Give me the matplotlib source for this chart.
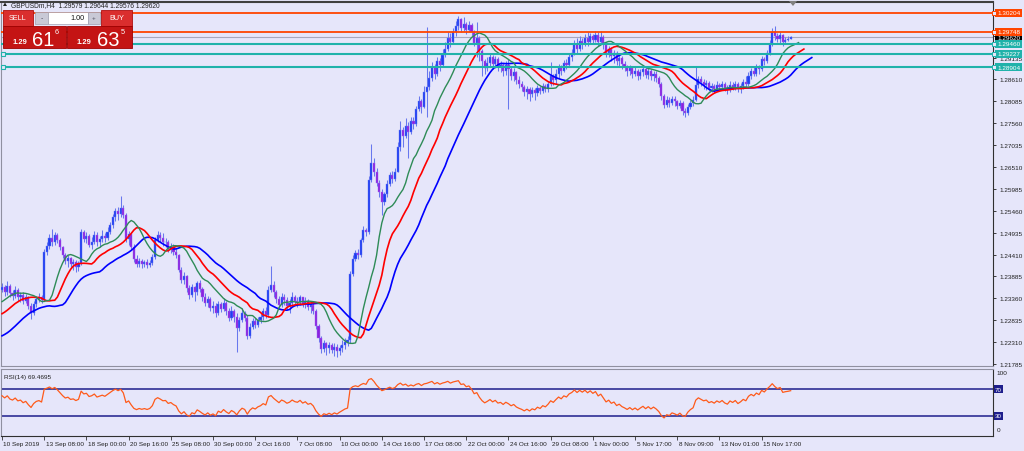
import matplotlib
matplotlib.use("Agg")
import matplotlib.pyplot as plt
from matplotlib.patches import Rectangle, Polygon
from matplotlib.transforms import blended_transform_factory
import numpy as np

# ---------------- data ----------------
first_open = 1.2355
closes = [
 1.2362, 1.2350, 1.2366, 1.2348, 1.2342, 1.2356, 1.2340, 1.2345, 1.2330, 1.2338,
 1.2318, 1.2300, 1.2322, 1.2335, 1.2340, 1.2332, 1.2448, 1.2462, 1.2480, 1.2470,
 1.2488, 1.2475, 1.2458, 1.2440, 1.2425, 1.2432, 1.2418, 1.2422, 1.2412, 1.2420,
 1.2495, 1.2478, 1.2485, 1.2465, 1.2472, 1.2488, 1.2470, 1.2478, 1.2486, 1.2480,
 1.2495, 1.2512, 1.2530, 1.2545, 1.2538, 1.2552, 1.2535, 1.2478, 1.2490, 1.2460,
 1.2430, 1.2418, 1.2425, 1.2418, 1.2422, 1.2415, 1.2420, 1.2435, 1.2475, 1.2488,
 1.2480, 1.2470, 1.2472, 1.2455, 1.2460, 1.2448, 1.2440, 1.2405, 1.2380, 1.2390,
 1.2360, 1.2345, 1.2362, 1.2352, 1.2372, 1.2358, 1.2340, 1.2325, 1.2335, 1.2312,
 1.2318, 1.2300, 1.2322, 1.2310, 1.2325, 1.2305, 1.2290, 1.2305, 1.2292, 1.2265,
 1.2285, 1.2300, 1.2290, 1.2245, 1.2268, 1.2282, 1.2272, 1.2285, 1.2292, 1.2305,
 1.2296, 1.2355, 1.2368, 1.2350, 1.2335, 1.2320, 1.2340, 1.2332, 1.2318, 1.2325,
 1.2340, 1.2330, 1.2326, 1.2338, 1.2322, 1.2330, 1.2315, 1.2320, 1.2305, 1.2270,
 1.2240, 1.2215, 1.2228, 1.2218, 1.2225, 1.2212, 1.2220, 1.2210, 1.2218, 1.2225,
 1.2232, 1.2236, 1.2395, 1.2430, 1.2445, 1.2440, 1.2475, 1.2500, 1.2495, 1.2620,
 1.2660, 1.2640, 1.2612, 1.2590, 1.2568, 1.2585, 1.2610, 1.2632, 1.2622, 1.2640,
 1.2700, 1.2740, 1.2725, 1.2750, 1.2735, 1.2762, 1.2755, 1.2790, 1.2808, 1.2795,
 1.2830, 1.2842, 1.2865, 1.2890, 1.2875, 1.2905, 1.2895, 1.2920, 1.2935, 1.2960,
 1.2950, 1.2975, 1.2990, 1.3005, 1.2985, 1.2995, 1.2980, 1.2992, 1.2975, 1.2948,
 1.2960, 1.2930, 1.2905, 1.2888, 1.2900, 1.2915, 1.2898, 1.2910, 1.2890, 1.2895,
 1.2880, 1.2895, 1.2885, 1.2870, 1.2878, 1.2860, 1.2850, 1.2842, 1.2830, 1.2838,
 1.2825, 1.2835, 1.2828, 1.2840, 1.2832, 1.2845, 1.2838, 1.2850, 1.2868, 1.2860,
 1.2875, 1.2890, 1.2882, 1.2900, 1.2895, 1.2915, 1.2925, 1.2945, 1.2935, 1.2952,
 1.2945, 1.2960, 1.2950, 1.2965, 1.2955, 1.2968, 1.2950, 1.2962, 1.2945, 1.2925,
 1.2935, 1.2918, 1.2925, 1.2905, 1.2912, 1.2898, 1.2890, 1.2880, 1.2888, 1.2875,
 1.2882, 1.2870, 1.2878, 1.2885, 1.2872, 1.2880, 1.2868, 1.2875, 1.2865, 1.2850,
 1.2820, 1.2800, 1.2812, 1.2805, 1.2815, 1.2808, 1.2798, 1.2805, 1.2785, 1.2780,
 1.2795, 1.2805, 1.2812, 1.2848, 1.2862, 1.2855, 1.2848, 1.2852, 1.2840, 1.2845,
 1.2838, 1.2848, 1.2842, 1.2850, 1.2840, 1.2835, 1.2848, 1.2842, 1.2850, 1.2838,
 1.2845, 1.2855, 1.2850, 1.2870, 1.2880, 1.2875, 1.2890, 1.2885, 1.2910, 1.2905,
 1.2925, 1.2945, 1.2975, 1.2965, 1.2958, 1.2968, 1.2950, 1.2955, 1.29579, 1.29620,
]
highs = [
 1.2372, 1.2368, 1.2378, 1.2370, 1.2356, 1.2365, 1.2360, 1.2352, 1.2350, 1.2346,
 1.2342, 1.2325, 1.2330, 1.2342, 1.2348, 1.2345, 1.2455, 1.2470, 1.2490, 1.2502,
 1.2496, 1.2492, 1.2480, 1.2462, 1.2445, 1.2440, 1.2436, 1.2430, 1.2428, 1.2426,
 1.2502, 1.2500, 1.2495, 1.2490, 1.2484, 1.2498, 1.2495, 1.2486, 1.2500, 1.2492,
 1.2508, 1.2520, 1.2538, 1.2552, 1.2556, 1.2581, 1.2560, 1.2540, 1.2498, 1.2492,
 1.2466, 1.2440, 1.2432, 1.2430, 1.2428, 1.2430, 1.2428, 1.2442, 1.2482, 1.2498,
 1.2495, 1.2492, 1.2480, 1.2476, 1.2468, 1.2466, 1.2455, 1.2442, 1.2410, 1.2398,
 1.2392, 1.2368, 1.2370, 1.2366, 1.2378, 1.2380, 1.2362, 1.2348, 1.2342, 1.2338,
 1.2330, 1.2325, 1.2330, 1.2328, 1.2336, 1.2330, 1.2312, 1.2318, 1.2310, 1.2300,
 1.2292, 1.2312, 1.2305, 1.2295, 1.2276, 1.2290, 1.2288, 1.2292, 1.2300, 1.2312,
 1.2315, 1.2365, 1.2414, 1.2378, 1.2356, 1.2342, 1.2348, 1.2346, 1.2338, 1.2335,
 1.2350, 1.2345, 1.2340, 1.2345, 1.2340, 1.2338, 1.2334, 1.2328, 1.2325, 1.2310,
 1.2275, 1.2245, 1.2236, 1.2232, 1.2232, 1.2230, 1.2228, 1.2226, 1.2225, 1.2235,
 1.2240, 1.2246, 1.2402, 1.2440, 1.2452, 1.2455, 1.2480, 1.2510, 1.2505, 1.2630,
 1.2705, 1.2672, 1.2648, 1.2620, 1.2598, 1.2592, 1.2620, 1.2640, 1.2642, 1.2648,
 1.2710, 1.2762, 1.2748, 1.2768, 1.2760, 1.2772, 1.2770, 1.2798, 1.2822, 1.2815,
 1.2845, 1.2987, 1.2880, 1.2902, 1.2898, 1.2915, 1.2912, 1.2935, 1.2950, 1.2975,
 1.2972, 1.2985, 1.3000, 1.3012, 1.3008, 1.3010, 1.2998, 1.3002, 1.2996, 1.2980,
 1.2999, 1.2965, 1.2935, 1.2910, 1.2915, 1.2925, 1.2920, 1.2918, 1.2915, 1.2905,
 1.2900, 1.2905, 1.2910, 1.2892, 1.2888, 1.2882, 1.2868, 1.2858, 1.2848, 1.2845,
 1.2842, 1.2842, 1.2840, 1.2848, 1.2845, 1.2852, 1.2850, 1.2858, 1.2902, 1.2875,
 1.2885, 1.2898, 1.2895, 1.2908, 1.2910, 1.2925, 1.2935, 1.2955, 1.2960, 1.2965,
 1.2960, 1.2970, 1.2975, 1.2972, 1.2970, 1.2978, 1.2975, 1.2978, 1.2968, 1.2950,
 1.2942, 1.2938, 1.2932, 1.2930, 1.2920, 1.2918, 1.2905, 1.2895, 1.2896, 1.2892,
 1.2890, 1.2886, 1.2885, 1.2895, 1.2890, 1.2888, 1.2885, 1.2882, 1.2880, 1.2870,
 1.2855, 1.2825, 1.2820, 1.2818, 1.2822, 1.2820, 1.2812, 1.2812, 1.2808, 1.2792,
 1.2802, 1.2812, 1.2820, 1.2893, 1.2870, 1.2868, 1.2862, 1.2860, 1.2858, 1.2852,
 1.2850, 1.2856, 1.2852, 1.2858, 1.2855, 1.2848, 1.2856, 1.2855, 1.2858, 1.2854,
 1.2852, 1.2862, 1.2868, 1.2878, 1.2888, 1.2890, 1.2898, 1.2895, 1.2918, 1.2915,
 1.2932, 1.2955, 1.2984, 1.2988, 1.2972, 1.2975, 1.2970, 1.2962, 1.2966, 1.29644,
]
lows = [
 1.2350, 1.2342, 1.2345, 1.2338, 1.2332, 1.2336, 1.2330, 1.2328, 1.2322, 1.2325,
 1.2310, 1.2286, 1.2295, 1.2315, 1.2328, 1.2325, 1.2330, 1.2440, 1.2455, 1.2462,
 1.2465, 1.2468, 1.2452, 1.2432, 1.2418, 1.2410, 1.2408, 1.2405, 1.2400, 1.2402,
 1.2415, 1.2470, 1.2468, 1.2458, 1.2455, 1.2466, 1.2462, 1.2460, 1.2470, 1.2472,
 1.2476, 1.2490, 1.2505, 1.2522, 1.2525, 1.2530, 1.2528, 1.2470, 1.2465, 1.2452,
 1.2422, 1.2412, 1.2410, 1.2408, 1.2410, 1.2408, 1.2412, 1.2415, 1.2430, 1.2470,
 1.2472, 1.2462, 1.2460, 1.2448, 1.2445, 1.2440, 1.2432, 1.2398, 1.2372, 1.2370,
 1.2352, 1.2335, 1.2338, 1.2330, 1.2345, 1.2350, 1.2330, 1.2318, 1.2315, 1.2305,
 1.2300, 1.2292, 1.2296, 1.2302, 1.2305, 1.2296, 1.2282, 1.2285, 1.2280, 1.2207,
 1.2258, 1.2280, 1.2282, 1.2238, 1.2240, 1.2262, 1.2265, 1.2268, 1.2276, 1.2285,
 1.2288, 1.2292, 1.2350, 1.2340, 1.2325, 1.2312, 1.2316, 1.2320, 1.2310, 1.2300,
 1.2318, 1.2322, 1.2315, 1.2320, 1.2315, 1.2312, 1.2308, 1.2300, 1.2298, 1.2262,
 1.2232, 1.2205, 1.2208, 1.2200, 1.2205, 1.2205, 1.2198, 1.2196, 1.2200, 1.2208,
 1.2215, 1.2222, 1.2230, 1.2390, 1.2425, 1.2430, 1.2435, 1.2470, 1.2485, 1.2490,
 1.2615, 1.2630, 1.2605, 1.2580, 1.2535, 1.2560, 1.2580, 1.2605, 1.2612, 1.2618,
 1.2638, 1.2690, 1.2700, 1.2720, 1.2672, 1.2730, 1.2742, 1.2750, 1.2785, 1.2780,
 1.2792, 1.2770, 1.2835, 1.2858, 1.2862, 1.2870, 1.2880, 1.2890, 1.2915, 1.2930,
 1.2938, 1.2945, 1.2965, 1.2980, 1.2975, 1.2978, 1.2970, 1.2975, 1.2965, 1.2940,
 1.2915, 1.2905, 1.2870, 1.2875, 1.2880, 1.2890, 1.2885, 1.2888, 1.2880, 1.2878,
 1.2870, 1.2872, 1.2790, 1.2860, 1.2858, 1.2850, 1.2840, 1.2832, 1.2820, 1.2815,
 1.2810, 1.2818, 1.2812, 1.2822, 1.2825, 1.2828, 1.2830, 1.2830, 1.2845, 1.2848,
 1.2850, 1.2865, 1.2872, 1.2878, 1.2885, 1.2890, 1.2905, 1.2920, 1.2925, 1.2930,
 1.2935, 1.2940, 1.2942, 1.2945, 1.2948, 1.2950, 1.2942, 1.2945, 1.2935, 1.2915,
 1.2915, 1.2905, 1.2900, 1.2895, 1.2890, 1.2885, 1.2880, 1.2870, 1.2872, 1.2865,
 1.2868, 1.2860, 1.2862, 1.2870, 1.2865, 1.2862, 1.2860, 1.2858, 1.2855, 1.2842,
 1.2812, 1.2792, 1.2795, 1.2796, 1.2800, 1.2798, 1.2790, 1.2792, 1.2775, 1.2771,
 1.2776, 1.2790, 1.2798, 1.2808, 1.2840, 1.2845, 1.2838, 1.2835, 1.2832, 1.2830,
 1.2828, 1.2832, 1.2835, 1.2836, 1.2832, 1.2825, 1.2830, 1.2835, 1.2836, 1.2830,
 1.2828, 1.2838, 1.2842, 1.2845, 1.2862, 1.2868, 1.2870, 1.2875, 1.2880, 1.2895,
 1.2900, 1.2920, 1.2940, 1.2955, 1.2950, 1.2948, 1.2942, 1.2945, 1.2952, 1.29576,
]
# median prices of the last bars before the visible window (for the Alligator)
pre_median = [1.2290, 1.2300, 1.2315, 1.2330, 1.2340, 1.2350, 1.2355]
# Alligator line values at the left edge of the chart
jaw_start, teeth_start, lips_start = 1.2246, 1.2299, 1.2328
rsi_seed_gain, rsi_seed_loss = 0.0010, 0.0007

date_labels = ["10 Sep 2019", "13 Sep 08:00", "18 Sep 00:00", "20 Sep 16:00",
               "25 Sep 08:00", "30 Sep 00:00", "2 Oct 16:00", "7 Oct 08:00",
               "10 Oct 00:00", "14 Oct 16:00", "17 Oct 08:00", "22 Oct 00:00",
               "24 Oct 16:00", "29 Oct 08:00", "1 Nov 00:00", "5 Nov 17:00",
               "8 Nov 09:00", "13 Nov 01:00", "15 Nov 17:00"]
label_every = 16
price_ticks_base, price_tick_step, n_price_ticks = 1.21785, 0.00525, 17
hidden_price_ticks = [1.30185, 1.29660]   # covered by the level labels
orange_levels = [1.30204, 1.29748]
teal_levels = [1.29460, 1.29227, 1.28904]
bid_level = 1.29620
title_text = "GBPUSDm,H4  1.29579 1.29644 1.29576 1.29620"
rsi_text = "RSI(14) 69.4695"

# ---------------- figure ----------------
W, H = 1024, 452
BG = '#E6E6FA'
FONT = 'Liberation Sans'
plt.rcParams['font.family'] = [FONT, 'DejaVu Sans']
fig = plt.figure(figsize=(W / 100, H / 100), dpi=100)
fig.patch.set_facecolor(BG)

def fx(px):
    return px / W

def fy(py):
    return 1 - py / H

ax = fig.add_axes([fx(1), fy(367), fx(993) - fx(1), fy(3) - fy(367)])
axr = fig.add_axes([fx(1), fy(437), fx(993) - fx(1), fy(370) - fy(437)])
for a in (ax, axr):
    a.set_facecolor(BG)

closes = np.array(closes)
highs = np.array(highs)
lows = np.array(lows)
opens = np.concatenate([[first_open], closes[:-1]])
n = len(closes)
xs = np.arange(n)

XMIN, XMAX = -0.38, 375.7
PBOT, PTOP = 1.21737, 1.30466

# candles
up = closes >= opens
lo_w = np.minimum(lows, np.minimum(opens, closes))
hi_w = np.maximum(highs, np.maximum(opens, closes))
ax.vlines(xs, lo_w, hi_w, color='#6878EE', lw=0.75, zorder=2)
ax.bar(xs[up], (closes - opens)[up], bottom=opens[up], width=0.8,
       color='#1E3CF2', edgecolor='#6A7CF4', linewidth=0.3, zorder=3)
ax.bar(xs[~up], (closes - opens)[~up], bottom=opens[~up], width=0.8,
       color='#8A22E0', edgecolor='#9A6CF0', linewidth=0.3, zorder=3)

# Alligator (SMMA of median price, shifted)
median = (highs + lows) / 2.0

def smma(start, vals, period):
    out = [start]
    v = start
    for m in vals:
        v = (v * (period - 1) + m) / period
        out.append(v)
    return np.array(out)

jaw = smma(jaw_start, list(pre_median) + list(median), 13)
teeth = smma(teeth_start, list(pre_median[-4:]) + list(median), 8)
lips = smma(lips_start, list(pre_median[-2:]) + list(median), 5)
ax.plot(np.arange(len(jaw)), jaw, color='#0000FF', lw=1.2, zorder=4)
ax.plot(np.arange(len(teeth)), teeth, color='#FF0000', lw=1.2, zorder=4)
ax.plot(np.arange(len(lips)), lips, color='#2E8B57', lw=1.0, zorder=4)

# horizontal levels
ax.axhline(bid_level, color='#A8A8BC', lw=0.8, zorder=1)
for lv in orange_levels:
    ax.axhline(lv, color='#FF4500', lw=1.3, zorder=5)
for lv in teal_levels:
    ax.axhline(lv, color='#20B2AA', lw=1.5, zorder=5)
for lv in teal_levels[1:]:
    ax.plot([XMIN + 0.9], [lv], marker='s', ms=2.6, mfc=BG, mec='#20B2AA',
            mew=0.8, zorder=6, clip_on=False)

ax.set_xlim(XMIN, XMAX)
ax.set_ylim(PBOT, PTOP)
ax.set_xticks([])
ax.yaxis.tick_right()
pticks = [price_ticks_base + k * price_tick_step for k in range(n_price_ticks)]
ax.set_yticks(pticks)
ax.set_yticklabels(['' if any(abs(p - h) < 1e-6 for h in hidden_price_ticks)
                    else f"{p:.5f}" for p in pticks])
ax.tick_params(axis='y', labelsize=4.6, length=2.5, width=0.6, pad=2,
               colors='#202020')
for s in ('left', 'bottom'):
    ax.spines[s].set_color('#9090A0')
    ax.spines[s].set_linewidth(0.8)
ax.spines['top'].set_color('#404040')
ax.spines['top'].set_linewidth(1.5)
ax.spines['right'].set_color('#303030')
ax.spines['right'].set_linewidth(0.8)

# ---------------- RSI ----------------
diffs = closes - opens
ag, al = rsi_seed_gain, rsi_seed_loss
rsi = []
for d in diffs:
    ag = (ag * 13 + max(d, 0.0)) / 14
    al = (al * 13 + max(-d, 0.0)) / 14
    rsi.append(100 - 100 / (1 + ag / al))
axr.plot(xs, rsi, color='#FF5A1A', lw=0.9, zorder=3)
for lv in (70, 30):
    axr.axhline(lv, color='#1E1E8C', lw=1.1, zorder=2)
axr.set_xlim(XMIN, XMAX)
axr.set_ylim(0, 100)
axr.set_yticks([])
tick_pos = [i * label_every for i in range(len(date_labels))]
axr.set_xticks(tick_pos)
axr.set_xticklabels([''] * len(tick_pos))
axr.tick_params(axis='x', length=3, width=0.6, colors='#303030', direction='out')
tr = blended_transform_factory(axr.transData, axr.transAxes)
for p, lab in zip(tick_pos, date_labels):
    axr.text(p + 0.55, -0.07, lab, transform=tr, ha='left', va='top',
             fontsize=4.6, color='#202020')
for s in ('left', 'top'):
    axr.spines[s].set_color('#9090A0')
    axr.spines[s].set_linewidth(0.8)
for s in ('right', 'bottom'):
    axr.spines[s].set_color('#303030')
    axr.spines[s].set_linewidth(0.8)
axr.text(0.003, 0.93, rsi_text, transform=axr.transAxes, ha='left', va='top',
         fontsize=4.6, color='#202020')
axr.text(1.004, 0.985, '100', transform=axr.transAxes, ha='left', va='top',
         fontsize=4.6, color='#202020')
axr.text(1.004, 0.10, '0', transform=axr.transAxes, ha='left', va='center',
         fontsize=4.6, color='#202020')

# ---------------- price labels on the right ----------------
def price_to_py(p):
    return 3 + (PTOP - p) / (PTOP - PBOT) * 364

def right_box(py, text, face):
    fig.patches.append(Rectangle((fx(995), fy(py + 4)), fx(27), (8 / H),
                                 transform=fig.transFigure, facecolor=face,
                                 edgecolor='none', zorder=5))
    fig.text(fx(997), fy(py), text, ha='left', va='center', fontsize=4.6,
             color='white', zorder=6)

right_box(price_to_py(bid_level), f"{bid_level:.5f}", '#000000')
for lv in orange_levels:
    right_box(price_to_py(lv), f"{lv:.5f}", '#FF4500')
for lv in teal_levels:
    right_box(price_to_py(lv), f"{lv:.5f}", '#20B2AA')
for lv, col in [(l, '#FF4500') for l in orange_levels] + [(l, '#20B2AA') for l in teal_levels]:
    py = price_to_py(lv)
    fig.patches.append(Rectangle((fx(991.5), fy(py + 2)), fx(4), 4 / H,
                                 transform=fig.transFigure, facecolor=BG,
                                 edgecolor=col, lw=0.7, zorder=7))

# RSI level boxes
for lv in (70, 30):
    py = 437 - lv / 100 * 67
    fig.patches.append(Rectangle((fx(994), fy(py + 4)), fx(9), 8 / H,
                                 transform=fig.transFigure, facecolor='#1E1E8C',
                                 edgecolor='none', zorder=5))
    fig.text(fx(995), fy(py), str(lv), ha='left', va='center', fontsize=4.4,
             color='white', zorder=6)

# ---------------- header / one-click panel ----------------
fig.patches.append(Polygon([(fx(3), fy(7)), (fx(7), fy(7)), (fx(5), fy(3.5))],
                           closed=True, transform=fig.transFigure,
                           facecolor='#202020', edgecolor='none', zorder=8))
fig.text(fx(11), fy(5.5), title_text, ha='left', va='center', fontsize=4.8,
         color='#202020', zorder=8)
fig.patches.append(Polygon([(fx(789), fy(2)), (fx(797), fy(2)), (fx(793), fy(7))],
                           closed=True, transform=fig.transFigure,
                           facecolor='#808080', edgecolor='none', zorder=8))

def frect(x0, y0, x1, y1, face, edge='none', lw=0.0, z=8):
    fig.patches.append(Rectangle((fx(x0), fy(y1)), fx(x1 - x0), (y1 - y0) / H,
                                 transform=fig.transFigure, facecolor=face,
                                 edgecolor=edge, lw=lw, zorder=z))

frect(3, 11, 33, 27, '#DA2E2E', '#B01010', 0.6)
frect(101, 11, 132, 27, '#DA2E2E', '#B01010', 0.6)
frect(35, 13, 48, 25, '#C9C9D6', '#A0A0B0', 0.5)
frect(48, 13, 88, 25, '#FFFFFF', '#A0A0B0', 0.5)
frect(88, 13, 100, 25, '#C9C9D6', '#A0A0B0', 0.5)
frect(3, 27, 66, 49, '#C41414', '#A00000', 0.6)
frect(67, 27, 132, 49, '#C41414', '#A00000', 0.6)
fig.text(fx(18), fy(19), 'SELL', ha='center', va='center', fontsize=5.2,
         color='white', zorder=9)
fig.text(fx(116.5), fy(19), 'BUY', ha='center', va='center', fontsize=5.2,
         color='white', zorder=9)
fig.text(fx(41.5), fy(19), '-', ha='center', va='center', fontsize=5,
         color='#505060', zorder=9)
fig.text(fx(94), fy(19), '+', ha='center', va='center', fontsize=4.5,
         color='#505060', zorder=9)
fig.text(fx(85), fy(19), '1.00', ha='right', va='center', fontsize=5.2,
         color='#101010', zorder=9)
for x_small, x_big, x_sup, big, sup in [(13, 32, 55, '61', '6'),
                                        (77, 97.5, 121, '63', '5')]:
    fig.text(fx(x_small), fy(43), '1.29', ha='left', va='center', fontsize=5.4,
             color='white', weight='bold', zorder=9)
    fig.text(fx(x_big), fy(40), big, ha='left', va='center', fontsize=14.5,
             color='white', zorder=9)
    fig.text(fx(x_sup), fy(32.5), sup, ha='left', va='center', fontsize=5.2,
             color='white', zorder=9)

fig.savefig('out.png', dpi=100, facecolor=BG)
